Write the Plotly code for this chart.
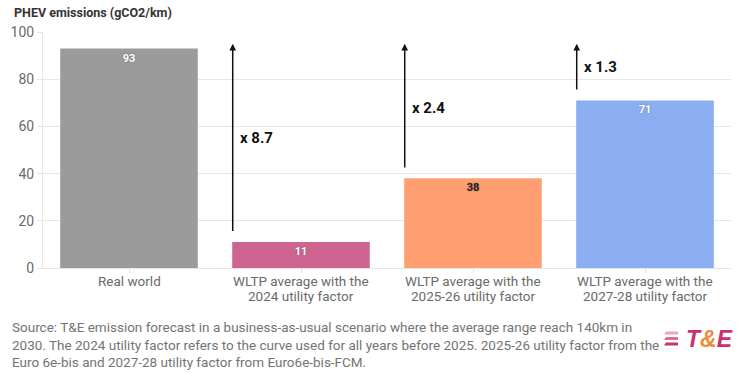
import plotly.graph_objects as go

cat_line1 = ["Real world", "WLTP average with the", "WLTP average with the", "WLTP average with the"]
cat_line2 = ["", "2024 utility factor", "2025-26 utility factor", "2027-28 utility factor"]
values = [93, 11, 38, 71]
bar_colors = ["#9b9b9b", "#cd6590", "#ff9f72", "#8aaef1"]
label_colors = ["#ffffff", "#ffffff", "#222222", "#ffffff"]
multipliers = ["x 8.7", "x 2.4", "x 1.3"]
multiplier_y = [55, 68, 85]
y_ticks = [0, 20, 40, 60, 80, 100]

W, H = 750, 373
L, R, T, B = 43, 19, 32, 105

fig = go.Figure()
xs = list(range(len(values)))
fig.add_trace(go.Bar(
    x=xs, y=values,
    marker=dict(color=bar_colors, line=dict(width=0)),
    text=[str(v) for v in values],
    textposition="inside", insidetextanchor="end",
    textfont=dict(size=11, color=label_colors, family="Roboto", weight="bold",
                  shadow="0px 0px 2px rgba(60,60,60,0.45)"),
    textangle=0, cliponaxis=False, hoverinfo="skip",
))

def px(xp):
    return (xp - L) / (W - L - R)

def py(yp):
    return (H - B - yp) / (H - T - B)

# category labels (two tight lines)
for i in xs:
    fig.add_annotation(x=i, y=py(281), xref="x", yref="paper", showarrow=False,
                       xanchor="center", yanchor="middle", text=cat_line1[i],
                       font=dict(size=13.5, color="#6a6a6a", family="Roboto"))
    if cat_line2[i]:
        fig.add_annotation(x=i, y=py(295.5), xref="x", yref="paper", showarrow=False,
                           xanchor="center", yanchor="middle", text=cat_line2[i],
                           font=dict(size=13.5, color="#6a6a6a", family="Roboto"))

# arrows + multiplier labels
for i, (m, my) in enumerate(zip(multipliers, multiplier_y)):
    idx = i + 1
    xa = idx - 0.397
    fig.add_annotation(x=xa, y=95, ax=xa, ay=values[idx] + 4,
                       xref="x", yref="y", axref="x", ayref="y",
                       showarrow=True, arrowhead=2, arrowsize=0.9, arrowwidth=1.5,
                       arrowcolor="#111111", standoff=0, startstandoff=0, text="")
    fig.add_annotation(x=idx - 0.365, y=my, xref="x", yref="y", xanchor="left",
                       yanchor="middle", showarrow=False, text="<b>" + m + "</b>",
                       font=dict(size=15, color="#111111", family="Roboto"))

# title
fig.add_annotation(x=px(12), y=py(12), xref="paper", yref="paper",
                   xanchor="left", yanchor="middle", showarrow=False,
                   text="<b>PHEV emissions (gCO2/km)</b>",
                   font=dict(size=12.5, color="#333333", family="Roboto"))

source = ("Source: T&amp;E emission forecast in a business-as-usual scenario where the average range reach 140km in<br>"
          "2030. The 2024 utility factor refers to the curve used for all years before 2025. 2025-26 utility factor from the<br>"
          "Euro 6e-bis and 2027-28 utility factor from Euro6e-bis-FCM.")
fig.add_annotation(x=px(10), y=py(317), xref="paper", yref="paper",
                   xanchor="left", yanchor="top", align="left", showarrow=False,
                   text=source, font=dict(size=13.5, color="#747474", family="Roboto"))

# logo
fig.add_annotation(x=px(684), y=py(339), xref="paper", yref="paper",
                   xanchor="left", yanchor="middle", showarrow=False,
                   text="<b><i>T<span style='color:#f08a3c'>&amp;</span>E</i></b>",
                   font=dict(size=23, color="#c8326e", family="Liberation Sans"))
stripe_cols = ["#eea3bf", "#dc6f98", "#c8326e"]
for k, c in enumerate(stripe_cols):
    y0 = 331.5 + k * 5.5
    path = "M {x1},{y1} L {x2},{y1} L {x2},{y2} L {x3},{y2} Z".format(
        x1=px(666), x2=px(678), x3=px(664),
        y1=py(y0), y2=py(y0 + 3.0))
    fig.add_shape(type="path", path=path, xref="paper", yref="paper",
                  fillcolor=c, line=dict(width=0))

fig.update_layout(
    width=W, height=H, margin=dict(l=L, r=R, t=T, b=B, autoexpand=False),
    paper_bgcolor="white", plot_bgcolor="white",
    bargap=0.2, showlegend=False,
    font=dict(family="Roboto", color="#666666"),
    xaxis=dict(tickmode="array", tickvals=xs, showticklabels=False,
               range=[-0.5, 3.5],
               ticks="outside", ticklen=4, tickcolor="#e3e3e3",
               showline=True, linecolor="#e6e6e6", linewidth=1,
               showgrid=False, zeroline=False, fixedrange=True, automargin=False),
    yaxis=dict(range=[0, 100], tickvals=y_ticks,
               tickfont=dict(size=14, color="#6a6a6a"),
               ticks="outside", ticklen=5, tickcolor="#e6e6e6",
               showgrid=True, gridcolor="#e6e6e6", gridwidth=1,
               showline=True, linecolor="#e6e6e6", zeroline=False,
               fixedrange=True, automargin=False),
)

fig.write_html("out.html", config={"displayModeBar": False},
               post_script="document.body.style.margin='0px';document.body.style.overflow='hidden';")
